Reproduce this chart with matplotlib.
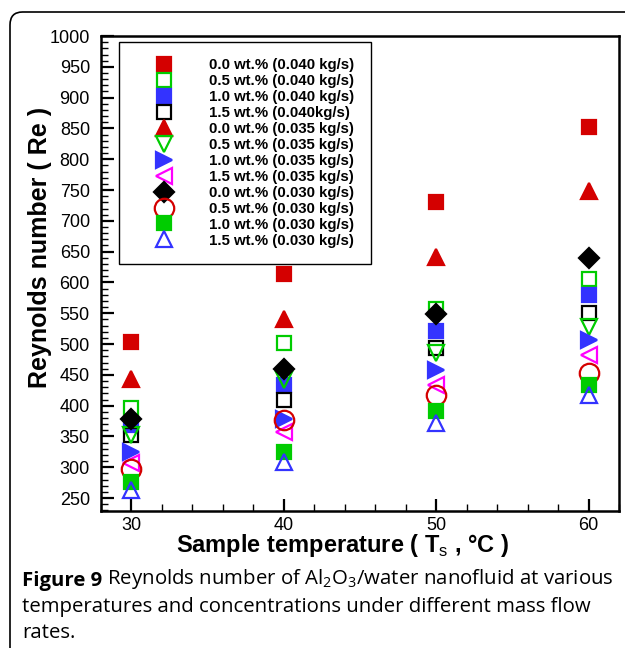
import matplotlib.pyplot as plt
from matplotlib.patches import FancyBboxPatch
from matplotlib.ticker import MultipleLocator

plt.rcParams['font.family'] = ['Liberation Sans', 'DejaVu Sans']
plt.rcParams['mathtext.fontset'] = 'custom'
plt.rcParams['mathtext.rm'] = 'Open Sans'
plt.rcParams['mathtext.bf'] = 'Liberation Sans:bold'
plt.rcParams['mathtext.sf'] = 'Liberation Sans'

temps = [30, 40, 50, 60]

re_00_040 = [503, 613, 730, 852]
re_05_040 = [396, 502, 557, 605]
re_10_040 = [368, 434, 522, 580]
re_15_040 = [352, 409, 494, 551]
re_00_035 = [444, 540, 642, 748]
re_05_035 = [353, 442, 486, 528]
re_10_035 = [325, 378, 458, 507]
re_15_035 = [307, 357, 434, 483]
re_00_030 = [379, 460, 548, 639]
re_05_030 = [297, 377, 418, 453]
re_10_030 = [276, 325, 392, 434]
re_15_030 = [263, 309, 372, 418]

labels = ['0.0 wt.% (0.040 kg/s)', '0.5 wt.% (0.040 kg/s)', '1.0 wt.% (0.040 kg/s)',
          '1.5 wt.% (0.040kg/s)', '0.0 wt.% (0.035 kg/s)', '0.5 wt.% (0.035 kg/s)',
          '1.0 wt.% (0.035 kg/s)', '1.5 wt.% (0.035 kg/s)', '0.0 wt.% (0.030 kg/s)',
          '0.5 wt.% (0.030 kg/s)', '1.0 wt.% (0.030 kg/s)', '1.5 wt.% (0.030 kg/s)']

red = '#d40000'
green = '#00cc00'
blue = '#3333ff'
magenta = '#ff00ff'

# (data, marker, colour, filled, size)
series = [
    (re_00_040, 's', red, True, 10),
    (re_05_040, 's', green, False, 10),
    (re_10_040, 's', blue, True, 10),
    (re_15_040, 's', 'black', False, 10),
    (re_00_035, '^', red, True, 12),
    (re_05_035, 'v', green, False, 12),
    (re_10_035, '>', blue, True, 12),
    (re_15_035, '<', magenta, False, 12),
    (re_00_030, 'D', 'black', True, 10),
    (re_05_030, 'o', red, False, 14),
    (re_10_030, 's', green, True, 10),
    (re_15_030, '^', blue, False, 12),
]

fig = plt.figure(figsize=(6.25, 6.48), dpi=100)
ax = fig.add_axes([0.1616, 0.2114, 0.829, 0.733])

for (vals, m, c, filled, ms), lab in zip(series, labels):
    ax.plot(temps, vals, linestyle='none', marker=m, markersize=ms,
            markerfacecolor=c if filled else 'none', markeredgecolor=c,
            markeredgewidth=1.6, label=lab)

ax.set_xlim(28, 62)
ax.set_ylim(229, 1000)
ax.xaxis.set_major_locator(MultipleLocator(10))
ax.xaxis.set_minor_locator(MultipleLocator(2))
ax.yaxis.set_major_locator(MultipleLocator(50))
ax.yaxis.set_minor_locator(MultipleLocator(10))
ax.tick_params(which='both', direction='in', top=False, right=False, labelsize=13)
ax.tick_params(which='major', length=9, width=1.6)
ax.tick_params(axis='y', which='major', pad=8)
ax.tick_params(axis='x', which='major', pad=4)
ax.tick_params(which='minor', length=5, width=1)
for sp in ax.spines.values():
    sp.set_linewidth(1.8)

ax.set_ylabel('Reynolds number ( Re )', fontsize=18, fontweight='bold', va='center')
ax.yaxis.set_label_coords(-0.118, 0.554)
ax.set_xlabel(r'Sample temperature ( T$_{\mathsf{s}}$ , °C )', fontsize=17,
              fontweight='bold', va='center')
ax.xaxis.set_label_coords(0.467, -0.073)

leg = ax.legend(loc='upper left', bbox_to_anchor=(0.035, 0.988), frameon=True,
                fancybox=False, edgecolor='black', framealpha=1,
                prop={'weight': 'bold', 'size': 10.8}, labelspacing=0.13,
                handlelength=3.8, handletextpad=1.1, borderpad=1.1,
                borderaxespad=0)
leg.get_frame().set_linewidth(1.0)

# rounded outer frame
frame = FancyBboxPatch((10 / 625, -0.05), 1.2, 1.05 - 12 / 648,
                       boxstyle='round,pad=0,rounding_size=0.02',
                       transform=fig.transFigure, facecolor='none',
                       edgecolor='black', linewidth=1.2, clip_on=False)
fig.patches.append(frame)

cap_font = ['Open Sans', 'DejaVu Sans']
cap_size = 14.7
t1 = fig.text(22 / 625, 1 - 581 / 648, 'Figure 9', fontsize=cap_size, fontweight='bold',
              family=cap_font, va='center')
ax.annotate(' Reynolds number of Al$_2$O$_3$/water nanofluid at various',
            xy=(1, 0), xycoords=t1, va='bottom', ha='left', fontsize=cap_size,
            family=cap_font, annotation_clip=False)
fig.text(22 / 625, 1 - 607 / 648, 'temperatures and concentrations under different mass flow',
         fontsize=cap_size, family=cap_font, va='center')
fig.text(22 / 625, 1 - 633 / 648, 'rates.', fontsize=cap_size, family=cap_font, va='center')

fig.savefig('out.png', dpi=100)
